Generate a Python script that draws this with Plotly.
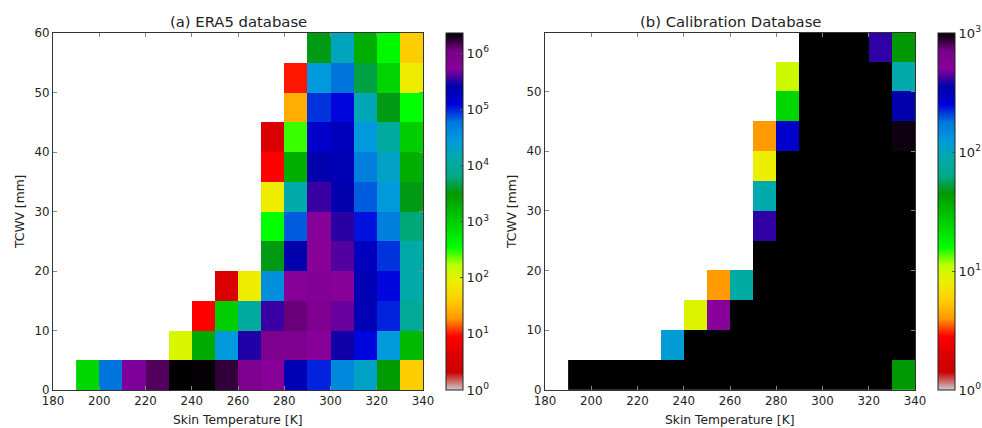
import numpy as np
import plotly.graph_objects as go

# Bin centres: skin temperature (K) and total column water vapour (mm)
skin_temp = [195, 205, 215, 225, 235, 245, 255, 265, 275, 285, 295, 305, 315, 325, 335]
tcwv = [2.5, 7.5, 12.5, 17.5, 22.5, 27.5, 32.5, 37.5, 42.5, 47.5, 52.5, 57.5]

N = None
# Sample counts per bin, rows ordered from low to high TCWV
era5_counts = [
    [850, 6e4, 5e5, 1.4e6, 2.3e6, 2.25e6, 1.7e6, 9e5, 5.5e5, 2.2e5, 1e5, 4e4, 2e4, 3e3, 40],
    [N, N, N, N, 110, 2.2e3, 2.8e4, 3e5, 9e5, 9e5, 5.5e5, 2.8e5, 1.2e5, 2.8e4, 1.6e3],
    [N, N, N, N, N, 9, 1e3, 1e4, 3.5e5, 1.2e6, 8e5, 4.5e5, 2.2e5, 1e5, 9e3],
    [N, N, N, N, N, N, 4, 80, 3.5e4, 5.5e5, 7e5, 5.5e5, 2.2e5, 1.2e5, 1.3e4],
    [N, N, N, N, N, N, N, N, 3.5e3, 2.5e5, 5.5e5, 4e5, 1.9e5, 9e4, 1.3e4],
    [N, N, N, N, N, N, N, N, 350, 7e4, 5.5e5, 3.2e5, 1.1e5, 5e4, 6e3],
    [N, N, N, N, N, N, N, N, 80, 1.3e4, 3.5e5, 2.5e5, 7e4, 2.8e4, 3.5e3],
    [N, N, N, N, N, N, N, N, 9, 2e3, 2.5e5, 2.2e5, 5e4, 2e4, 2e3],
    [N, N, N, N, N, N, N, N, 4, 280, 1.6e5, 2e5, 2.8e4, 1e4, 1e3],
    [N, N, N, N, N, N, N, N, N, 25, 9e4, 1.2e5, 1.6e4, 3.5e3, 350],
    [N, N, N, N, N, N, N, N, N, 10, 2.8e4, 6e4, 4.5e3, 900, 80],
    [N, N, N, N, N, N, N, N, N, N, 3.5e3, 1.8e4, 2e3, 400, 40],
]

calib_counts = [
    [1000, 1000, 1000, 1000, 1000, 1000, 1000, 1000, 1000, 1000, 1000, 1000, 1000, 1000, 45],
    [N, N, N, N, 118, 1000, 1000, 1000, 1000, 1000, 1000, 1000, 1000, 1000, 1000],
    [N, N, N, N, N, 9, 500, 1000, 1000, 1000, 1000, 1000, 1000, 1000, 1000],
    [N, N, N, N, N, N, 4, 83, 1000, 1000, 1000, 1000, 1000, 1000, 1000],
    [N, N, N, N, N, N, N, N, 1000, 1000, 1000, 1000, 1000, 1000, 1000],
    [N, N, N, N, N, N, N, N, 400, 1000, 1000, 1000, 1000, 1000, 1000],
    [N, N, N, N, N, N, N, N, 89, 1000, 1000, 1000, 1000, 1000, 1000],
    [N, N, N, N, N, N, N, N, 8, 1000, 1000, 1000, 1000, 1000, 1000],
    [N, N, N, N, N, N, N, N, 4, 280, 1000, 1000, 1000, 1000, 960],
    [N, N, N, N, N, N, N, N, N, 24, 1000, 1000, 1000, 1000, 350],
    [N, N, N, N, N, N, N, N, N, 10, 1000, 1000, 1000, 1000, 89],
    [N, N, N, N, N, N, N, N, N, N, 1000, 1000, 1000, 400, 45],
]

era5_exponents = [0, 1, 2, 3, 4, 5, 6]
calib_exponents = [0, 1, 2, 3]
x_ticks = [180, 200, 220, 240, 260, 280, 300, 320, 340]
y_ticks_a = [0, 10, 20, 30, 40, 50, 60]
y_ticks_b = [0, 10, 20, 30, 40, 50]

# nipy_spectral segment data, reversed so that low counts are grey/red and high counts black
_r = [0.0, 0.4667, 0.5333, 0.0, 0.0, 0.0, 0.0, 0.0, 0.0, 0.0, 0.0, 0.0, 0.0,
      0.7333, 0.9333, 1.0, 1.0, 1.0, 0.8667, 0.80, 0.80]
_g = [0.0, 0.0, 0.0, 0.0, 0.0, 0.4667, 0.6, 0.6667, 0.6667, 0.6, 0.7333, 0.8667,
      1.0, 1.0, 0.9333, 0.8, 0.6, 0.0, 0.0, 0.0, 0.80]
_b = [0.0, 0.5333, 0.6, 0.6667, 0.8667, 0.8667, 0.8667, 0.6667, 0.5333, 0.0, 0.0,
      0.0, 0.0, 0.0, 0.0, 0.0, 0.0, 0.0, 0.0, 0.0, 0.80]
stops = np.linspace(0, 1, 21)
colorscale = []
for i in range(20, -1, -1):
    colorscale.append([
        float(1 - stops[i]),
        "rgb(%d,%d,%d)" % (round(_r[i] * 255), round(_g[i] * 255), round(_b[i] * 255)),
    ])


def to_log(rows):
    arr = np.array([[np.nan if v is None else v for v in row] for row in rows], dtype=float)
    return np.log10(arr)


z_a = to_log(era5_counts)
z_b = to_log(calib_counts)
zmax_a = float(np.nanmax(z_a))

W, H = 982, 428
MT, MB = 20, 20
PH = H - MT - MB
FONT = "DejaVu Sans"
TXT = "#222222"


def px_x(p):
    return p / W


def px_y(p):
    return 1 - (p - MT) / PH


top_px, bot_px = 33, 390
ydom = [px_y(bot_px), px_y(top_px)]
xdom_a = [px_x(53), px_x(423)]
xdom_b = [px_x(545), px_x(915)]


def cbar(x_left, exps):
    return dict(
        x=px_x(x_left), xanchor="left", xpad=0,
        y=(ydom[0] + ydom[1]) / 2, yanchor="middle", ypad=0,
        len=ydom[1] - ydom[0], lenmode="fraction",
        thickness=17, thicknessmode="pixels",
        outlinewidth=1, outlinecolor="#222222",
        tickvals=exps, ticktext=["10<sup>%d</sup>" % e for e in exps],
        ticks="inside", ticklen=3, tickcolor="#555555",
        tickfont=dict(family=FONT, size=13, color=TXT),
    )


fig = go.Figure()
fig.add_trace(go.Heatmap(
    x=skin_temp, y=tcwv, z=z_a, xaxis="x", yaxis="y",
    colorscale=colorscale, zmin=0, zmax=zmax_a,
    colorbar=cbar(446, era5_exponents), hoverongaps=False,
))
fig.add_trace(go.Heatmap(
    x=skin_temp, y=tcwv, z=z_b, xaxis="x2", yaxis="y2",
    colorscale=colorscale, zmin=0, zmax=3,
    colorbar=cbar(938, calib_exponents), hoverongaps=False,
))

axis_common = dict(
    showgrid=False, zeroline=False, showline=True, linecolor="#333333", linewidth=1,
    mirror="ticks", ticks="inside", ticklen=4, tickcolor="#888888", automargin=False,
    tickfont=dict(family=FONT, size=11.8, color=TXT),
)


def label(text, x_px, y_px, size, angle=0):
    return dict(text=text, x=px_x(x_px), y=px_y(y_px), xref="paper", yref="paper",
                xanchor="center", yanchor="middle", textangle=angle, showarrow=False,
                font=dict(family=FONT, size=size, color=TXT))


fig.update_layout(
    width=W, height=H,
    margin=dict(l=0, r=0, t=MT, b=MB, autoexpand=False),
    paper_bgcolor="white", plot_bgcolor="white",
    font=dict(family=FONT, color=TXT),
    showlegend=False,
    xaxis=dict(domain=xdom_a, range=[180, 340], tickvals=x_ticks, anchor="y", **axis_common),
    yaxis=dict(domain=ydom, range=[0, 60], tickvals=y_ticks_a, anchor="x", **axis_common),
    xaxis2=dict(domain=xdom_b, range=[180, 340], tickvals=x_ticks, anchor="y2", **axis_common),
    yaxis2=dict(domain=ydom, range=[0, 59.8], tickvals=y_ticks_b, anchor="x2", **axis_common),
    annotations=[
        label("(a) ERA5 database", 238, 22, 14.8),
        label("(b) Calibration Database", 730, 22, 14.8),
        label("Skin Temperature [K]", 238, 420, 12.3),
        label("Skin Temperature [K]", 730, 420, 12.3),
        label("TCWV [mm]", 20, 212, 12.3, -90),
        label("TCWV [mm]", 512, 212, 12.3, -90),
    ],
)

fig.write_html("out.html")
